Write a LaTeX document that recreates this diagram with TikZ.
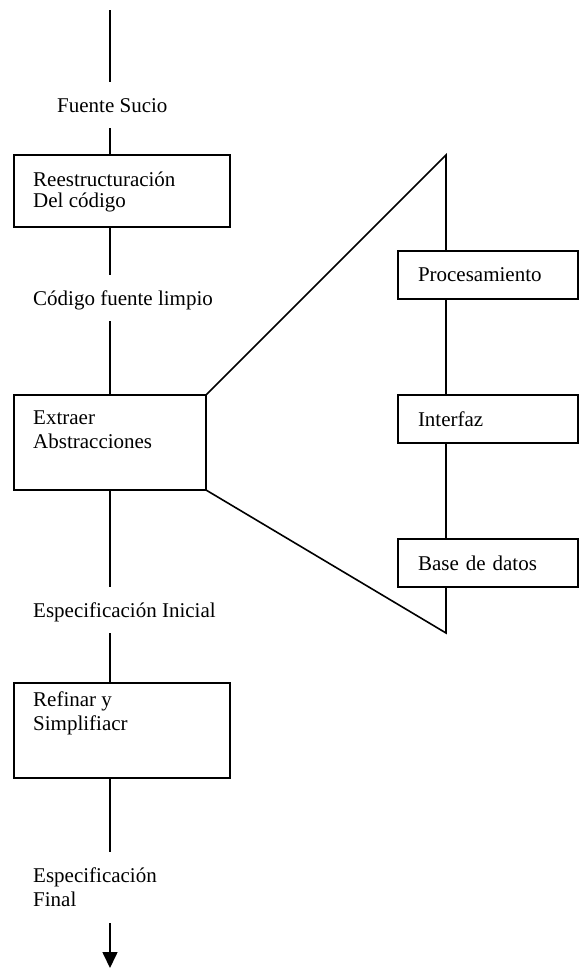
\documentclass[tikz,border=0pt]{standalone}
\usepackage{fontspec}
\setmainfont{Liberation Serif}
\usetikzlibrary{arrows.meta}
\begin{document}
\begin{tikzpicture}[x=1pt,y=-1pt,
  font=\fontsize{21}{24}\selectfont,
  wire/.style={line width=1.6pt},
  stage/.style={draw, line width=1.6pt, outer sep=0pt, inner sep=0pt, anchor=north west},
  caption/.style={anchor=north west, inner xsep=0pt, inner ysep=16pt, text height=14pt, text depth=0pt},
  multi/.style={anchor=north west, inner xsep=0pt, inner ysep=16pt, align=left},
  boxtext/.style={anchor=north west, inner sep=0pt, align=left},
  part/.style={draw, line width=1.6pt, anchor=north west, minimum width=180pt,
    minimum height=48pt, text width=140pt, inner xsep=20pt, inner ysep=0pt,
    align=left, outer sep=0pt}
]
\useasboundingbox (0,0) rectangle (579,970);

% main pipeline
\coordinate (src) at (110,10);
\node[caption] (fs) at (57,82) {Fuente Sucio};
\node[stage, minimum width=216pt, minimum height=72pt] (b1) at (14,155) {};
\node[boxtext, font=\fontsize{21}{20.5}\selectfont] (t1) at (33,172) {Reestructuración\\Del código};
\node[caption] (cl) at (33,275) {Código fuente limpio};
\node[stage, minimum width=192pt, minimum height=95pt] (b2) at (14,395) {};
\node[boxtext] (t2) at (33,411) {Extraer\\Abstracciones};
\node[caption] (ei) at (33,587) {Especificación Inicial};
\node[stage, minimum width=216pt, minimum height=95pt] (b3) at (14,683) {};
\node[boxtext] (t3) at (33,692) {Refinar y\\Simplifiacr};
\node[multi] (ef) at (33,852) {Especificación\\Final};
\coordinate (sink) at (110,968);

\draw[wire] (src) -- (src |- fs.north);
\draw[wire] (src |- fs.south) -- (src |- b1.north);
\draw[wire] (src |- b1.south) -- (src |- cl.north);
\draw[wire] (src |- cl.south) -- (src |- b2.north);
\draw[wire] (src |- b2.south) -- (src |- ei.north);
\draw[wire] (src |- ei.south) -- (src |- b3.north);
\draw[wire] (src |- b3.south) -- (src |- ef.north);
\draw[wire, -{Triangle[width=15pt,length=16pt]}] (src |- ef.south) -- (sink);

% expansion of the abstraction step
\coordinate (apex) at (446,155);
\coordinate (foot) at (446,633);
\node[part] (p1) at (398,251) {Procesamiento};
\node[part] (p2) at (398,395) {Interfaz};
\node[part] (p3) at (398,539) {Base de datos};

\draw[wire] (b2.north east) -- (apex) -- (apex |- p1.north);
\draw[wire] (apex |- p1.south) -- (apex |- p2.north);
\draw[wire] (apex |- p2.south) -- (apex |- p3.north);
\draw[wire] (apex |- p3.south) -- (foot) -- (b2.south east);
\end{tikzpicture}
\end{document}
